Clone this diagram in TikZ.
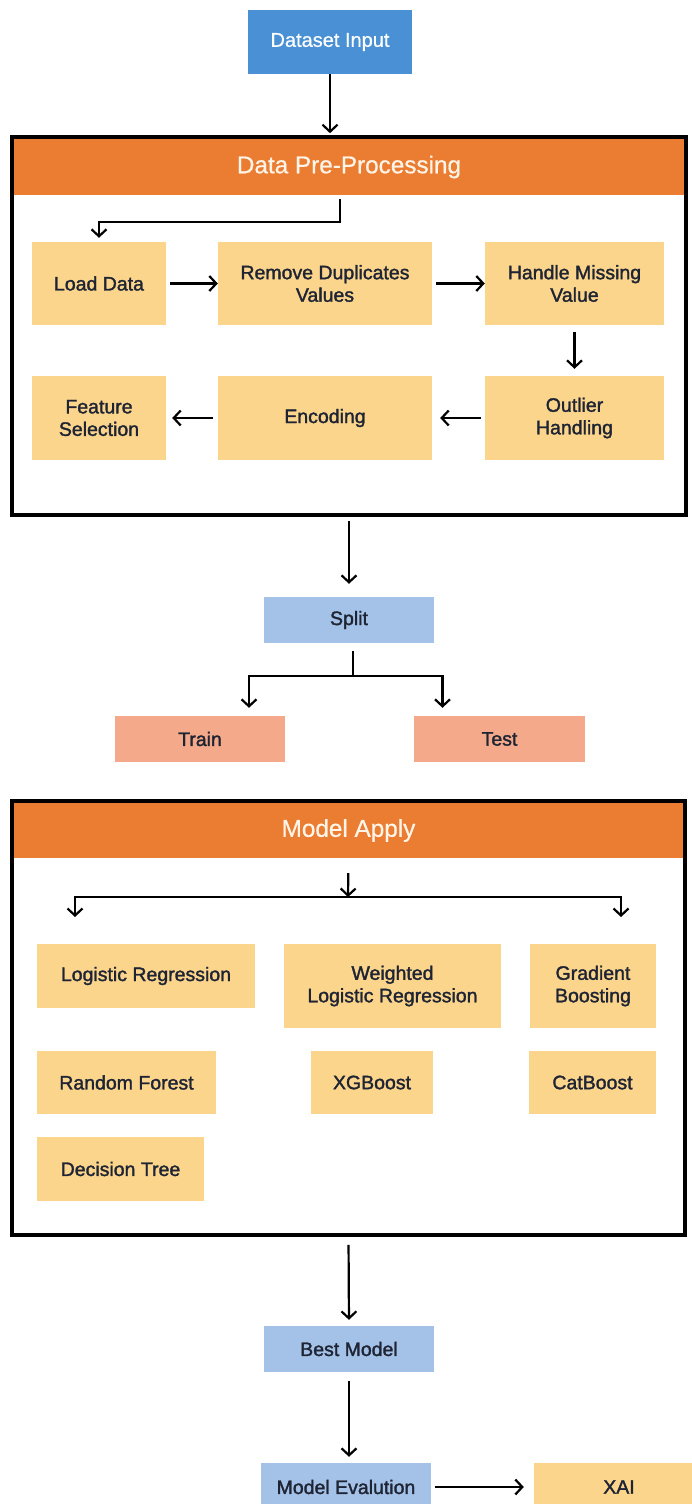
\documentclass[tikz,border=0pt]{standalone}
\usepackage{fontspec}
\setmainfont{Liberation Sans}
\newfontfamily\labelfont{Liberation Sans}[FakeBold=1.6]
\newfontfamily\titlefont{Liberation Sans}[FakeBold=0.6]
\usetikzlibrary{arrows.meta,calc}

\definecolor{inblue}{HTML}{4A90D4}
\definecolor{headorange}{HTML}{EB7D32}
\definecolor{stepyellow}{HTML}{FCD58C}
\definecolor{paleblue}{HTML}{A4C2E8}
\definecolor{salmon}{HTML}{F4AA8A}
\definecolor{inkdark}{HTML}{1E2433}
\definecolor{headtext}{HTML}{FFF4E8}

\begin{document}
\begin{tikzpicture}[x=1pt,y=-1pt,
  wh/.style 2 args={minimum width=#1pt, minimum height=#2pt},
  card/.style={rectangle, inner sep=0pt, align=center, text=inkdark,
               font=\labelfont\fontsize{19.5}{22.5}\selectfont},
  stepbox/.style={card, fill=stepyellow},
  flowbox/.style={card, fill=paleblue},
  splitbox/.style={card, fill=salmon},
  frame/.style={rectangle, draw=black, line width=3.6pt, inner sep=0pt},
  header/.style={rectangle, fill=headorange, inner sep=0pt, text=headtext,
                 font=\titlefont\fontsize{24.3}{28}\selectfont},
  arr/.style={draw=black, line width=2.2pt,
              -{Straight Barb[length=7pt,width=15pt,line width=2.2pt]}},
  link/.style={draw=black, line width=2.2pt}
]
\useasboundingbox (0,0) rectangle (692,1504);
\fill[white] (0,0) rectangle (692,1504);

% ---------- input ----------
\node[card, fill=inblue, text=white, font=\titlefont\fontsize{20}{23}\selectfont, wh={164}{64}]
  (input) at (330,42) {Dataset Input};

% ---------- pre-processing block ----------
\node[header, wh={672}{56}] (ppHead) at (349,167) {Data Pre-Processing};
\node[frame, wh={674}{378}] (pp) at (349,326) {};

\node[stepbox, wh={134}{83}] (load) at (99,283.5) {Load Data};
\node[stepbox, wh={214}{83}] (dup)  at (325,283.5) {Remove Duplicates\\Values};
\node[stepbox, wh={179}{83}] (miss) at (574.5,283.5) {Handle Missing\\Value};
\node[stepbox, wh={134}{84}] (feat) at (99,418) {Feature\\Selection};
\node[stepbox, wh={214}{84}] (enc)  at (325,418) {Encoding};
\node[stepbox, wh={179}{84}] (outl) at (574.5,418) {Outlier\\Handling};

% ---------- split ----------
\node[flowbox, wh={170}{46}] (split) at (349,620) {Split};
\node[splitbox, wh={170}{46}] (train) at (200,739) {Train};
\node[splitbox, wh={171}{46}] (test)  at (499.5,739) {Test};

% ---------- model block ----------
\node[header, wh={671}{55}] (maHead) at (348.5,830.5) {Model Apply};
\node[frame, wh={673}{434}] (ma) at (348.5,1018) {};

\node[stepbox, wh={218}{64}] (logreg)  at (146,976) {Logistic Regression};
\node[stepbox, wh={217}{84}] (wlogreg) at (392.5,986) {Weighted\\Logistic Regression};
\node[stepbox, wh={126}{84}] (gb)      at (593,986) {Gradient\\Boosting};
\node[stepbox, wh={179}{63}] (rf)      at (126.5,1082.5) {Random Forest};
\node[stepbox, wh={122}{63}] (xgb)     at (372,1082.5) {XGBoost};
\node[stepbox, wh={127}{63}] (cat)     at (592.5,1082.5) {CatBoost};
\node[stepbox, wh={167}{64}] (dt)      at (120.5,1169) {Decision Tree};

% ---------- final stages ----------
\node[flowbox, wh={170}{46}] (best) at (349,1349) {Best Model};
\node[flowbox, wh={170}{48}] (eval) at (346,1487) {Model Evalution};
\node[stepbox, wh={170}{48}] (xai)  at (619,1487) {XAI};

% ---------- connectors ----------
\draw[arr, shorten >=2pt] (input.south) -- (input.south |- pp.north);

\coordinate (ppIn) at (340,222);
\draw[arr, shorten <=4pt, shorten >=4pt] (ppIn |- ppHead.south) -- (ppIn) -| (load.north);

\draw[arr, shorten <=4pt] (load.east) -- (dup.west);
\draw[arr, shorten <=4pt] (dup.east) -- (miss.west);
\draw[arr, shorten <=7pt, shorten >=7pt] (miss.south) -- (outl.north);
\draw[arr, shorten <=4pt, shorten >=8pt] (outl.west) -- (enc.east);
\draw[arr, shorten <=5pt, shorten >=6pt] (enc.west) -- (feat.east);

\draw[arr, shorten <=4pt, shorten >=13pt] (pp.south) -- (split.north);

\coordinate (spJ) at (353,676);
\draw[link, shorten <=8pt] (spJ |- split.south) -- (spJ);
\draw[arr, shorten >=8pt] (spJ) -| ([xshift=49pt]train.north);
\draw[arr, shorten >=8pt] (spJ) -| ([xshift=-57pt]test.north);

\coordinate (maBar) at (348,897);
\coordinate (maL) at (75,917);
\coordinate (maR) at (621,917);
\draw[arr, shorten <=15pt] (maHead.south) -- (maBar);
\draw[arr] (maBar) -| (maL);
\draw[arr] (maBar) -| (maR);

\draw[arr, shorten <=8pt, shorten >=6pt] (ma.south) -- (best.north);
\draw[arr, shorten <=9pt, shorten >=6pt] (best.south) -- (best.south |- eval.north);
\draw[arr, shorten <=4pt, shorten >=10pt] (eval.east) -- (xai.west);
\end{tikzpicture}
\end{document}
